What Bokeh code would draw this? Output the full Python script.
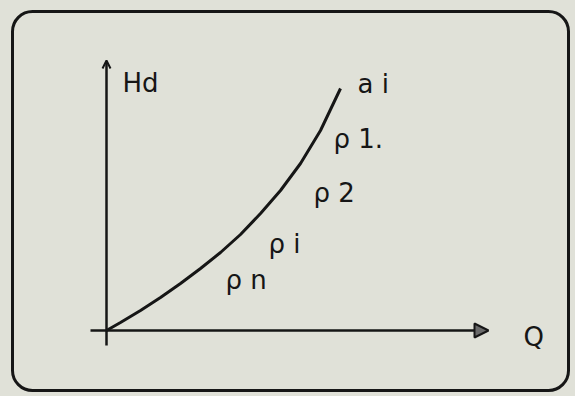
from bokeh.plotting import figure
from bokeh.models import Range1d, Arrow, NormalHead, OpenHead, BoxAnnotation, ColumnDataSource
from bokeh.core.properties import value
from bokeh.embed import file_html
from bokeh.resources import INLINE

# Curve (flow Q vs head Hd, arbitrary units)
Q = [0, 14, 34, 54, 74, 94, 114, 134, 154, 174, 194, 214, 234]
Hd = [0, 8, 20, 33, 47, 62, 78, 96, 117, 140, 167, 200, 242]

# Labels on the diagram
labels = ["Hd", "a i", "ρ 1.", "ρ 2", "ρ i", "ρ n", "Q"]
label_x = [16, 251, 227, 207, 162, 119, 417]
label_y = [248, 247, 192, 138, 87, 51, -6]

BG = "#e0e1d8"
INK = "#161616"

p = figure(width=575, height=396, output_backend="svg", toolbar_location=None,
           x_range=Range1d(-106, 469), y_range=Range1d(-66, 330),
           x_axis_type=None, y_axis_type=None, min_border=0)
p.grid.visible = False
p.outline_line_color = None
p.background_fill_color = BG
p.border_fill_color = BG

# rounded frame
p.add_layout(BoxAnnotation(left=-94, right=462, top=319, bottom=-60,
                           fill_alpha=0, line_color=INK, line_alpha=1.0, line_width=3,
                           border_radius=20))

# axes with arrows
p.add_layout(Arrow(x_start=0, y_start=-15, x_end=0, y_end=270,
                   line_color=INK, line_width=2.5,
                   end=OpenHead(size=8, line_color=INK, line_width=2)))
p.add_layout(Arrow(x_start=-16, y_start=0, x_end=382, y_end=0,
                   line_color=INK, line_width=2.5,
                   end=NormalHead(size=14, fill_color="#6a6a6a", line_color=INK, line_width=2)))

# curve
p.line(Q, Hd, line_color=INK, line_width=3)

src = ColumnDataSource(dict(x=label_x, y=label_y, t=labels))
p.text(x="x", y="y", text="t", source=src, text_font=value("DejaVu Sans"),
       text_font_size="26px", text_color=INK, text_align="left",
       text_baseline="alphabetic")

html = file_html(p, INLINE)
html = html.replace("<head>", "<head><style>html,body{background:%s;}</style>" % BG, 1)
open("out.html", "w").write(html)
